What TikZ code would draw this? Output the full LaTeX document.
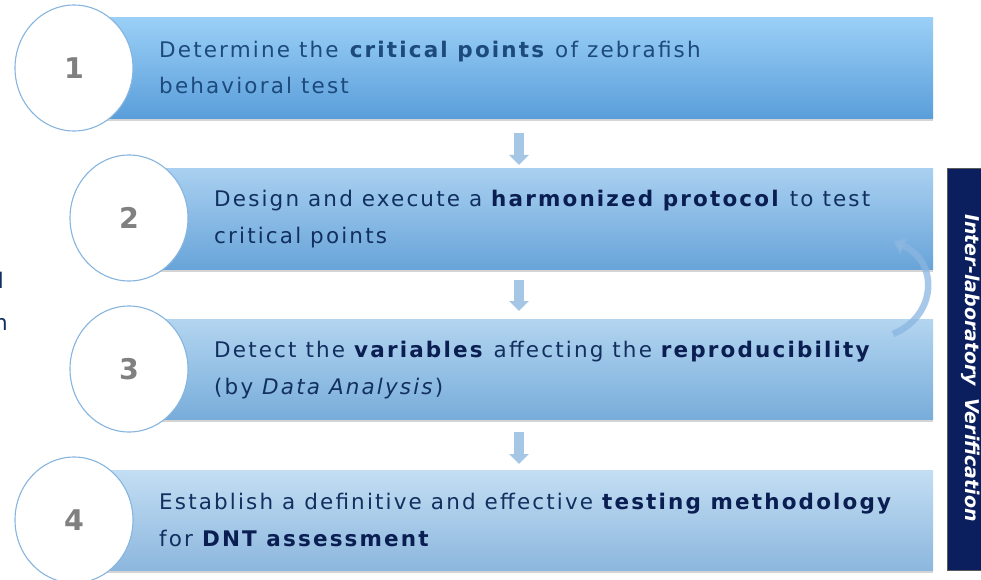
\documentclass[tikz,border=0pt]{standalone}
\usepackage{fontspec}
\setmainfont{DejaVu Sans}
\newfontfamily\stepfont{DejaVu Sans}[LetterSpace=10]
\usetikzlibrary{arrows.meta,shadows,shapes.geometric}

\definecolor{navy}{HTML}{0B1F5E}
\definecolor{bodytxt}{HTML}{12305F}
\definecolor{firsttxt}{HTML}{1C4A7C}
\definecolor{boldtxt}{HTML}{0A1E52}
\definecolor{ring}{HTML}{86B5DF}
\definecolor{numgray}{HTML}{808080}
\definecolor{flowblue}{HTML}{A6C6E6}
\definecolor{loopblue}{HTML}{8AB6E0}
\definecolor{labedge}{HTML}{5A5A5A}
\definecolor{topA}{HTML}{9BD0F7}\definecolor{botA}{HTML}{5A9EDA}
\definecolor{topB}{HTML}{A9D0F0}\definecolor{botB}{HTML}{68A4D9}
\definecolor{topC}{HTML}{B3D5F0}\definecolor{botC}{HTML}{78ADDA}
\definecolor{topD}{HTML}{C3DEF3}\definecolor{botD}{HTML}{8CB7DE}

\begin{document}
\begin{tikzpicture}[x=1pt,y=-1pt,
  stepbox/.style={rectangle, anchor=north west, inner sep=0pt, minimum height=101pt,
    drop shadow={shadow xshift=0pt, shadow yshift=-2.5pt, opacity=0.28, fill=black!60}},
  numring/.style={ellipse, draw=ring, line width=1.1pt, fill=white, inner sep=0pt,
    minimum width=118pt, minimum height=126pt,
    font=\fontsize{28.5}{32}\selectfont\bfseries, text=numgray},
  steptext/.style={anchor=west, align=left, inner sep=0pt, text=bodytxt,
    font=\stepfont\fontsize{21.5}{36.5}\selectfont},
  downarrow/.style={draw=flowblue, line width=10pt,
    -{Triangle[width=19pt, length=10pt]}},
  looparrow/.style={draw=loopblue, line width=6.5pt, draw opacity=0.75,
    -{Triangle[width=17pt, length=12pt]}},
]
\newcommand{\hb}[1]{\textcolor{boldtxt}{\textbf{#1}}}
\useasboundingbox (0,0) rectangle (981,580);

% cut-off letters at the left margin
\node[anchor=base east, inner sep=0pt, text=bodytxt, font=\stepfont\fontsize{21.5}{24}\selectfont] (fragl) at (4,288) {l};
\node[anchor=base east, inner sep=0pt, text=bodytxt, font=\stepfont\fontsize{21.5}{24}\selectfont] (fragn) at (8,330) {n};

% step bars
\node[stepbox, minimum width=859pt, top color=topA, bottom color=botA] (b1) at (74,17) {};
\node[stepbox, minimum width=803pt, top color=topB, bottom color=botB] (b2) at (130,168) {};
\node[stepbox, minimum width=803pt, minimum height=100pt, top color=topC, bottom color=botC] (b3) at (130,319) {};
\node[stepbox, minimum width=859pt, minimum height=100pt, top color=topD, bottom color=botD] (b4) at (74,470) {};

% numbered rings
\node[numring] (c1) at (74,68) {1};
\node[numring] (c2) at (129,218) {2};
\node[numring] (c3) at (129,369) {3};
\node[numring] (c4) at (74,520) {4};

% step texts
\node[steptext, text=firsttxt] (t1) at (159,67.5)
  {Determine the \textbf{critical points} of zebrafish\\behavioral test};
\node[steptext] (t2) at (214,219)
  {Design and execute a \hb{harmonized protocol} to test\\critical points};
\node[steptext] (t3) at (214,370)
  {Detect the \hb{variables} affecting the \hb{reproducibility}\\(by \textit{Data Analysis})};
\node[steptext] (t4) at (159,520)
  {Establish a definitive and effective \hb{testing methodology}\\for \hb{DNT assessment}};

% flow arrows between the bars
\coordinate (a1s) at (519,133); \coordinate (a1e) at (519,165);
\coordinate (a2s) at (519,280); \coordinate (a2e) at (519,311);
\coordinate (a3s) at (519,432); \coordinate (a3e) at (519,464);
\draw[downarrow] (a1s) -- (a1e);
\draw[downarrow] (a2s) -- (a2e);
\draw[downarrow] (a3s) -- (a3e);

% loop from step 3 back to step 2
\coordinate (ls) at (893,334);
\coordinate (le) at (893,241);
\draw[looparrow] (ls) .. controls (937,316) and (939,262) .. (le);

% vertical side label
\node[rectangle, anchor=north west, fill=navy, draw=labedge, line width=0.8pt,
  minimum width=46pt, minimum height=402pt, inner sep=0pt] (lab) at (947,168) {};
\node[rotate=-90, text=white, inner sep=0pt,
  font=\fontsize{19}{22}\selectfont\bfseries\itshape] (labtxt) at (971,368)
  {Inter-laboratory\hspace{0.3em} Verification};
\end{tikzpicture}
\end{document}
